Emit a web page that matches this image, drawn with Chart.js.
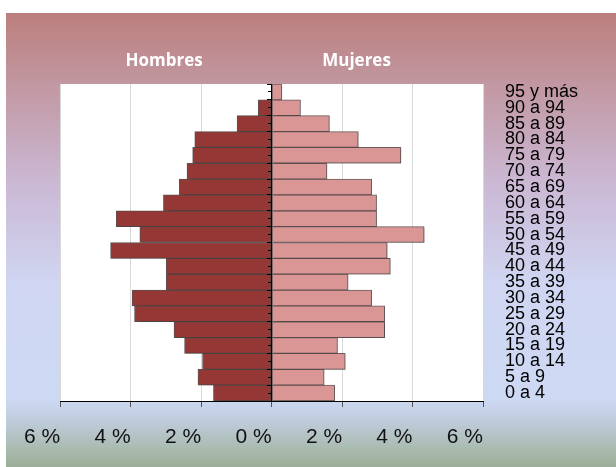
<!DOCTYPE html>
<html>
<head>
<meta charset="utf-8">
<script src="https://cdn.jsdelivr.net/npm/chart.js@4.4.0/dist/chart.umd.min.js"></script>
<style>
    html, body { margin: 0; padding: 0; background: #fff; }
    #wrap {
        position: absolute; left: 6px; top: 13px; width: 610px; height: 454px;
        background: linear-gradient(to bottom,
            #bb7f7d 0%, #c299a4 17%, #cbb9d5 38%, #d0d6f2 60%,
            #cdd9f3 85%, #bfcbdb 90%, #a9bbb0 96%, #9bae98 100%);
    }
</style>
</head>
<body>
<div id="wrap"><canvas id="pyramidChart" width="610" height="454"></canvas></div>
<script>
// age groups, youngest first (drawn bottom to top)
const ageGroups = ['0 a 4', '5 a 9', '10 a 14', '15 a 19', '20 a 24', '25 a 29', '30 a 34',
    '35 a 39', '40 a 44', '45 a 49', '50 a 54', '55 a 59', '60 a 64', '65 a 69',
    '70 a 74', '75 a 79', '80 a 84', '85 a 89', '90 a 94', '95 y más'];

// share of population, %
const hombres = [1.65, 2.09, 1.96, 2.47, 2.77, 3.89, 3.96, 2.99, 2.99, 4.57,
    3.74, 4.41, 3.07, 2.62, 2.40, 2.24, 2.18, 0.98, 0.38, 0];
const mujeres = [1.79, 1.49, 2.09, 1.87, 3.21, 3.21, 2.84, 2.17, 3.37, 3.28,
    4.33, 2.98, 2.98, 2.84, 1.57, 3.67, 2.46, 1.64, 0.82, 0.29];

const seriesNames = ['Hombres', 'Mujeres'];
const xMin = -6;
const xMax = 6;
const xStep = 2;

let chart;

// white plot area + soft shadow under the bars
const plotBackground = {
    id: 'plotBackground',
    beforeDraw(chart) {
        const { ctx, chartArea } = chart;
        ctx.save();
        ctx.fillStyle = '#ffffff';
        ctx.fillRect(chartArea.left, chartArea.top, chartArea.width, chartArea.height);
        ctx.restore();
    },
    beforeDatasetsDraw(chart) {
        const ctx = chart.ctx;
        ctx.save();
        ctx.shadowColor = 'rgba(0, 0, 0, 0.2)';
        ctx.shadowBlur = 1.5;
        ctx.shadowOffsetX = 1.5;
        ctx.shadowOffsetY = 1;
    },
    afterDatasetsDraw(chart) {
        chart.ctx.restore();
    }
};

function initializeChart() {
    const ctx = document.getElementById('pyramidChart').getContext('2d');
    chart = new Chart(ctx, {
        type: 'bar',
        data: {
            labels: ageGroups,
            datasets: [
                {
                    label: seriesNames[0],
                    data: hombres.map(v => -v),
                    backgroundColor: '#953735',
                    borderColor: 'rgba(85, 72, 72, 0.95)',
                    borderWidth: 1,
                    borderSkipped: false,
                    barPercentage: 1,
                    categoryPercentage: 1
                },
                {
                    label: seriesNames[1],
                    data: mujeres,
                    backgroundColor: '#d99694',
                    borderColor: 'rgba(100, 85, 85, 0.95)',
                    borderWidth: 1,
                    borderSkipped: false,
                    barPercentage: 1,
                    categoryPercentage: 1
                }
            ]
        },
        options: {
            indexAxis: 'y',
            responsive: false,
            animation: false,
            layout: {
                padding: { top: 29, right: 37, bottom: 17, left: 0 }
            },
            plugins: {
                tooltip: { enabled: false },
                legend: {
                    position: 'top',
                    align: 'start',
                    labels: {
                        color: '#ffffff',
                        font: { family: 'Open Sans', size: 17, weight: 'bold' },
                        boxWidth: 105,
                        boxHeight: 26,
                        padding: 6,
                        generateLabels(chart) {
                            return Chart.defaults.plugins.legend.labels.generateLabels(chart).map(item =>
                                Object.assign(item, {
                                    fillStyle: 'rgba(0,0,0,0)',
                                    strokeStyle: 'rgba(0,0,0,0)',
                                    lineWidth: 0
                                }));
                        }
                    }
                }
            },
            scales: {
                x: {
                    type: 'linear',
                    min: xMin,
                    max: xMax,
                    stacked: true,
                    ticks: {
                        stepSize: xStep,
                        align: 'end',
                        padding: 18,
                        color: '#111',
                        font: { family: 'Liberation Sans', size: 21 },
                        callback: v => Math.abs(v) + ' %'
                    },
                    grid: {
                        color: '#d9d9d9',
                        drawTicks: true,
                        tickLength: 6,
                        tickColor: '#555'
                    },
                    border: { display: true, color: '#000', width: 1 },
                    afterFit(scale) { scale.height = 49; }
                },
                y: {
                    type: 'category',
                    position: 'right',
                    reverse: true,
                    offset: true,
                    stacked: true,
                    ticks: {
                        autoSkip: false,
                        padding: 22,
                        color: '#000',
                        font: { family: 'Liberation Sans', size: 18 }
                    },
                    grid: { display: false, drawTicks: false },
                    border: { display: false },
                    afterFit(scale) {
                        scale.width = 96;
                        scale.paddingTop = 0;
                        scale.paddingBottom = 0;
                    }
                },
                yLeft: {
                    type: 'linear',
                    axis: 'y',
                    position: 'left',
                    ticks: { display: false },
                    grid: { display: false, drawTicks: false },
                    border: { display: false },
                    afterFit(scale) { scale.width = 54; }
                },
                // centre axis: line + ticks on category borders
                yMid: {
                    type: 'category',
                    axis: 'y',
                    position: { x: 0 },
                    reverse: true,
                    offset: true,
                    ticks: { display: false },
                    grid: { offset: true, drawOnChartArea: false, drawTicks: true, tickLength: 4, color: '#000', z: 1 },
                    border: { display: true, color: '#000', width: 1, z: 1 }
                },
                // centre axis: ticks in the middle of each category
                yMidHalf: {
                    type: 'category',
                    axis: 'y',
                    position: { x: 0 },
                    reverse: true,
                    offset: true,
                    ticks: { display: false },
                    grid: { offset: false, drawOnChartArea: false, drawTicks: true, tickLength: 4, color: '#000', z: 1 },
                    border: { display: false }
                }
            }
        },
        plugins: [plotBackground]
    });
}

initializeChart();
</script>
</body>
</html>
